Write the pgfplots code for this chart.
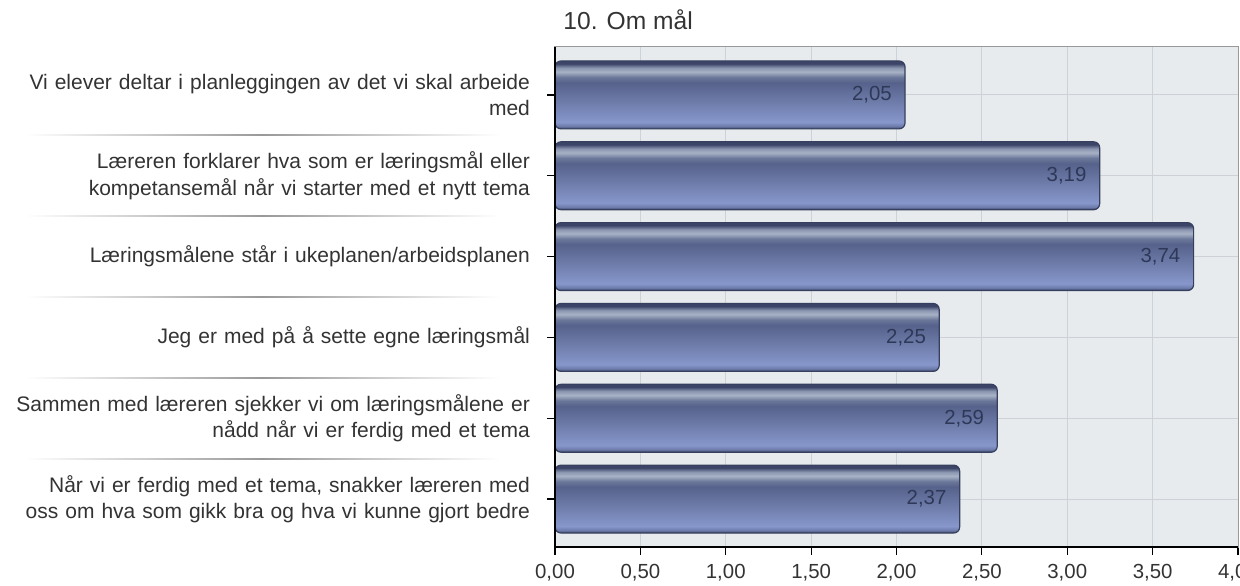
\documentclass[border=0pt]{standalone}
\usepackage{pgfplots}
\pgfplotsset{compat=1.18}
\usepackage{fontspec}
\setmainfont{Liberation Sans}
\definecolor{bgc}{HTML}{E8EBEE}
\definecolor{gridc}{HTML}{CDD2D8}
\definecolor{barb}{HTML}{36405E}
\definecolor{valc}{HTML}{2E3858}
\definecolor{labc}{HTML}{333333}
\definecolor{s1}{HTML}{3C4568}
\definecolor{s2}{HTML}{6C7BAA}
\definecolor{s3}{HTML}{8797CB}
\definecolor{s4}{HTML}{56628B}
\definecolor{s5}{HTML}{6B7799}
\definecolor{s6}{HTML}{A8B2C6}
\definecolor{s7}{HTML}{8A95B0}
\pgfdeclareverticalshading{barshade}{100bp}{%
color(0bp)=(s1); color(25bp)=(s1); color(27bp)=(s2); color(30bp)=(s3);
color(59bp)=(s4); color(63bp)=(s5); color(67bp)=(s6); color(70bp)=(s7);
color(73bp)=(s1); color(75bp)=(s1); color(100bp)=(s1)}
\pgfplotsset{mybar/.style={shading=barshade, draw=barb, line width=0.6pt, rounded corners=3pt}}
\begin{document}
\begin{tikzpicture}
\begin{axis}[
  scale only axis,
  width=341.5pt, height=250pt,
  xmin=0, xmax=4,
  ymin=-0.593, ymax=5.593,
  y dir=reverse,
  xtick={0,0.5,...,4},
  ytick={0,1,2,3,4,5},
  yticklabels={{Vi elever deltar i planleggingen av det vi skal arbeide\\med},
    {Læreren forklarer hva som er læringsmål eller\\kompetansemål når vi starter med et nytt tema},
    {Læringsmålene står i ukeplanen/arbeidsplanen},
    {Jeg er med på å sette egne læringsmål},
    {Sammen med læreren sjekker vi om læringsmålene er\\nådd når vi er ferdig med et tema},
    {Når vi er ferdig med et tema, snakker læreren med\\oss om hva som gikk bra og hva vi kunne gjort bedre}},
  yticklabel style={align=right, text width=262pt, font=\fontsize{10.5}{13.3}\selectfont, text=labc, xshift=-5pt},
  xticklabel style={font=\fontsize{10.2}{11}\selectfont, text=labc, yshift=-1pt},
  /pgf/number format/.cd, fixed, fixed zerofill, precision=2, use comma, assume math mode=true,
  /pgfplots/.cd,
  scaled x ticks=false,
  tick align=outside,
  tick pos=left,
  major tick length=4pt,
  tick style={draw=black, line width=0.6pt},
  axis background/.style={fill=bgc},
  grid=major,
  major grid style={draw=gridc, line width=0.5pt},
  axis line style={draw=black!40, line width=0.5pt},
  title={10. Om mål},
  title style={at={(0,1)}, anchor=base west, xshift=4pt, yshift=2.5pt, font=\fontsize{12.3}{14}\selectfont, text=labc, inner sep=0pt},
  clip=false,
  xbar, bar width=0.84, bar shift=0pt,
  nodes near coords,
  nodes near coords style={anchor=east, xshift=-3pt, font=\fontsize{10.2}{11}\selectfont, text=valc},
]
\addplot[mybar] coordinates {(2.05,0)};
\addplot[mybar] coordinates {(3.19,1)};
\addplot[mybar] coordinates {(3.74,2)};
\addplot[mybar] coordinates {(2.25,3)};
\addplot[mybar] coordinates {(2.59,4)};
\addplot[mybar] coordinates {(2.37,5)};
\draw[black, line width=0.8pt] (axis description cs:0,1) -- (axis description cs:0,0) -- (axis description cs:1,0);
\pgfplotsinvokeforeach{0.5,1.5,2.5,3.5,4.5}{
  \fill[left color=white, right color=white, middle color=black!40]
    ([xshift=-265pt, yshift=-0.3pt]axis cs:0,#1) rectangle ([xshift=-27.5pt, yshift=0.3pt]axis cs:0,#1);
}
\end{axis}
\pgfresetboundingbox
\useasboundingbox (-277.5pt,-19pt) rectangle (342.5pt,273.5pt);
\end{tikzpicture}
\end{document}
